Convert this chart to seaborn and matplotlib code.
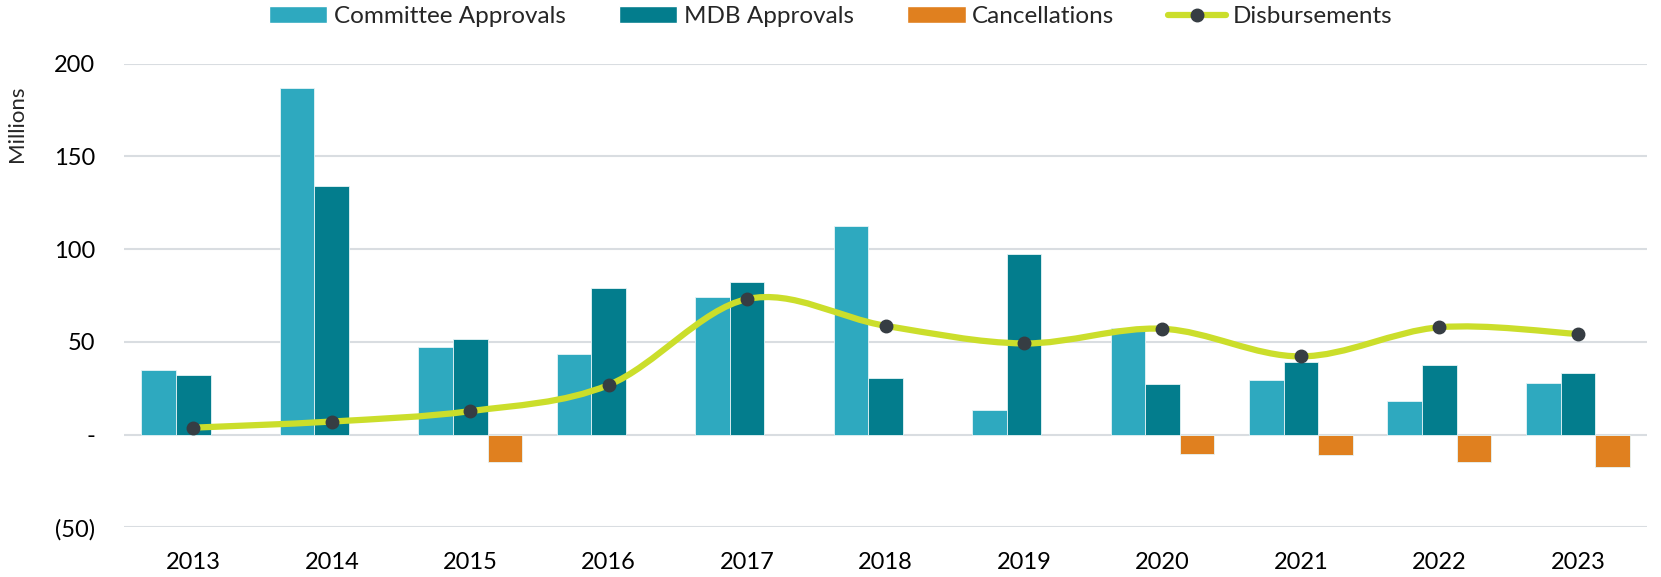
import numpy as np
import pandas as pd
import matplotlib
matplotlib.use('Agg')
import matplotlib.pyplot as plt
from matplotlib.path import Path
from matplotlib.patches import PathPatch, Patch
from matplotlib.lines import Line2D
from matplotlib.ticker import FuncFormatter
import seaborn as sns

# data (millions)
years = ['2013', '2014', '2015', '2016', '2017', '2018', '2019', '2020', '2021', '2022', '2023']
committee = [35.0, 187.0, 47.0, 43.5, 74.0, 112.5, 13.5, 57.3, 29.4, 18.4, 28.0]
mdb = [32.0, 134.0, 51.8, 79.0, 82.5, 30.7, 97.5, 27.3, 39.1, 37.7, 33.3]
cancellations = [0, 0, -14.9, 0, 0, 0, 0, -10.3, -10.9, -14.6, -17.2]
disbursements = [3.8, 7.1, 12.7, 26.8, 73.1, 58.7, 49.2, 57.1, 42.2, 57.9, 54.3]

series_names = ['Committee Approvals', 'MDB Approvals', 'Cancellations']
colors = ['#2EA9BF', '#037D8D', '#E0801F']
line_color = '#CBDE2B'
marker_color = '#363D43'

sns.set_style("white")
plt.rcParams['font.family'] = ['Lato', 'DejaVu Sans']

df = pd.DataFrame({
    'Year': years * 3,
    'Series': [s for s in series_names for _ in years],
    'Value': committee + mdb + cancellations,
})

fig = plt.figure(figsize=(16.61, 5.77), dpi=100)
ax = fig.add_axes([0.0747, 0.0858, 0.9169, 0.804])

sns.barplot(data=df, x='Year', y='Value', hue='Series', hue_order=series_names,
            palette=colors, saturation=1, width=0.75, gap=0, legend=False, ax=ax,
            edgecolor='#E6F4F6', linewidth=0.6, errorbar=None)
for p in ax.patches:
    if p.get_height() == 0:
        p.set_visible(False)

# smoothed disbursement line (bezier through the points, like Excel)
xs = np.arange(len(years), dtype=float)
pts = np.column_stack([xs, disbursements])
verts = [pts[0]]
codes = [Path.MOVETO]
n = len(pts)
for i in range(n - 1):
    p0 = pts[max(i - 1, 0)]
    p1 = pts[i]
    p2 = pts[i + 1]
    p3 = pts[min(i + 2, n - 1)]
    c1 = p1 + (p2 - p0) / 6.0
    c2 = p2 - (p3 - p1) / 6.0
    verts += [c1, c2, p2]
    codes += [Path.CURVE4] * 3
ax.add_patch(PathPatch(Path(verts, codes), transform=ax.transData, fill=False,
                       edgecolor=line_color, lw=4.5, capstyle='round', zorder=4))
ax.plot(xs, disbursements, linestyle='none', marker='o', markersize=9,
        color=marker_color, zorder=5)

ax.set_ylim(-50, 200)
ax.set_xlim(-0.5, len(years) - 0.5)
ax.set_yticks([-50, 0, 50, 100, 150, 200])


def acct(v, pos):
    if v == 0:
        return '-'
    if v < 0:
        return f'({abs(v):.0f})'
    return f'{v:.0f}'


ax.yaxis.set_major_formatter(FuncFormatter(acct))
ax.grid(axis='y', color='#D9DDE1', linewidth=1.5)
ax.set_axisbelow(True)
for s in ax.spines.values():
    s.set_visible(False)
ax.tick_params(axis='both', length=0, labelsize=17, colors='black')
ax.tick_params(axis='y', pad=21)
ax.tick_params(axis='x', pad=18)
ax.set_xlabel('')
ax.set_ylabel('Millions', fontsize=16)
ax.yaxis.set_label_coords(-0.0637, 0.87)

handles = [Patch(facecolor=c, label=l) for c, l in zip(colors, series_names)]
handles.append(Line2D([], [], color=line_color, lw=4.5, marker='o', markersize=9,
                      markerfacecolor=marker_color, markeredgecolor=marker_color,
                      label='Disbursements'))
fig.legend(handles=handles, loc='upper center', bbox_to_anchor=(0.5, 1.027), ncol=4,
           frameon=False, fontsize=17.5, handlelength=2.4, handleheight=0.7,
           handletextpad=0.27, columnspacing=2.2)

fig.savefig('out.png', dpi=100)
